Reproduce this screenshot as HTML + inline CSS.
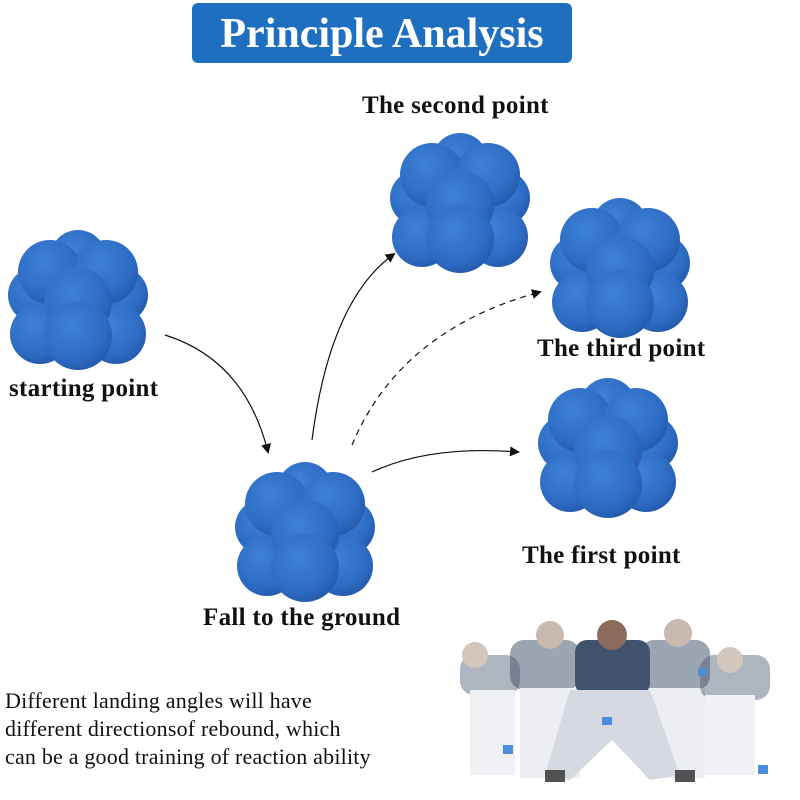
<!DOCTYPE html>
<html><head><meta charset="utf-8"><style>
body{margin:0;width:800px;height:800px;background:#fff;overflow:hidden;position:relative;font-family:"Liberation Serif",serif}
.t{position:absolute;font-size:25px;font-weight:bold;letter-spacing:0.3px;color:#111;white-space:nowrap}
</style></head><body>
<svg width="800" height="800" style="position:absolute;left:0;top:0">
<defs>
<radialGradient id="g" cx="0.4" cy="0.35" r="0.7"><stop offset="0" stop-color="#3d82d8"/><stop offset="0.7" stop-color="#2e6cc4"/><stop offset="1" stop-color="#2358a8"/></radialGradient>
<g id="ball">
<circle cx="0" cy="0" r="60" fill="#2a64ba"/>
<circle cx="-42" cy="-5" r="28" fill="url(#g)"/>
<circle cx="42" cy="-5" r="28" fill="url(#g)"/>
<circle cx="-38" cy="34" r="30" fill="url(#g)"/>
<circle cx="38" cy="34" r="30" fill="url(#g)"/>
<circle cx="0" cy="-42" r="28" fill="url(#g)"/>
<circle cx="-28" cy="-28" r="32" fill="url(#g)"/>
<circle cx="28" cy="-28" r="32" fill="url(#g)"/>
<circle cx="0" cy="2" r="34" fill="url(#g)"/>
<circle cx="0" cy="36" r="34" fill="url(#g)"/>
</g>
<marker id="a" markerWidth="10" markerHeight="10" refX="8" refY="5" orient="auto" markerUnits="userSpaceOnUse"><path d="M0,0 L10,5 L0,10 z" fill="#111"/></marker>
</defs>
<rect x="192" y="3" width="380" height="60" rx="6" fill="#1f6fc0"/>
<text x="382" y="47" text-anchor="middle" font-family="Liberation Serif" font-weight="bold" font-size="42" fill="#fff">Principle Analysis</text>
<use href="#ball" x="78" y="300"/>
<use href="#ball" x="460" y="203"/>
<use href="#ball" x="620" y="268"/>
<use href="#ball" x="608" y="448"/>
<use href="#ball" x="305" y="532"/>
<g fill="none" stroke="#111" stroke-width="1.2">
<path d="M165,335 Q245,360 268,452" marker-end="url(#a)"/>
<path d="M312,440 Q330,300 394,254" marker-end="url(#a)"/>
<path d="M352,445 Q400,330 540,292" stroke-dasharray="6,5" marker-end="url(#a)"/>
<path d="M372,472 Q430,445 518,452" marker-end="url(#a)"/>
</g>
<g opacity="0.85">
<g opacity="0.45"><rect x="460" y="655" width="60" height="40" rx="14" fill="#2c3e5a"/><circle cx="475" cy="655" r="13" fill="#8a6a55"/><rect x="470" y="690" width="45" height="85" fill="#d8dce4"/></g>
<g opacity="0.55"><rect x="510" y="640" width="70" height="50" rx="14" fill="#2c3e5a"/><circle cx="550" cy="635" r="14" fill="#8a6a55"/><rect x="520" y="688" width="60" height="90" fill="#d6dae2"/></g>
<g opacity="0.55"><rect x="640" y="640" width="70" height="50" rx="14" fill="#2c3e5a"/><circle cx="678" cy="633" r="14" fill="#8a6a55"/><rect x="645" y="688" width="60" height="90" fill="#d6dae2"/></g>
<g opacity="0.45"><rect x="700" y="655" width="70" height="45" rx="14" fill="#2c3e5a"/><circle cx="730" cy="660" r="13" fill="#8a6a55"/><rect x="705" y="695" width="50" height="80" fill="#d8dce4"/></g>
<rect x="575" y="640" width="75" height="55" rx="12" fill="#1f3555"/><circle cx="612" cy="635" r="15" fill="#7a5240"/>
<path d="M570,690 L650,690 L680,775 L650,780 L612,740 L570,780 L545,775 z" fill="#cfd3dc"/>
<rect x="545" y="770" width="20" height="12" fill="#333"/><rect x="675" y="770" width="20" height="12" fill="#333"/>
<rect x="602" y="717" width="10" height="8" fill="#2d7ad8"/><rect x="503" y="745" width="10" height="9" fill="#2d7ad8"/><rect x="758" y="765" width="10" height="9" fill="#2d7ad8"/><rect x="698" y="668" width="8" height="8" fill="#2d7ad8"/>
</g>
</svg>
<div class="t" style="left:362px;top:92px">The second point</div>
<div class="t" style="left:537px;top:335px">The third point</div>
<div class="t" style="left:9px;top:375px">starting point</div>
<div class="t" style="left:522px;top:542px">The first point</div>
<div class="t" style="left:203px;top:604px">Fall to the ground</div>
<div class="t" style="left:5px;top:687px;font-size:22px;font-weight:normal;letter-spacing:0.2px;line-height:28px">Different landing angles will have<br>different directionsof rebound, which<br>can be a good training of reaction ability</div>
</body></html>
